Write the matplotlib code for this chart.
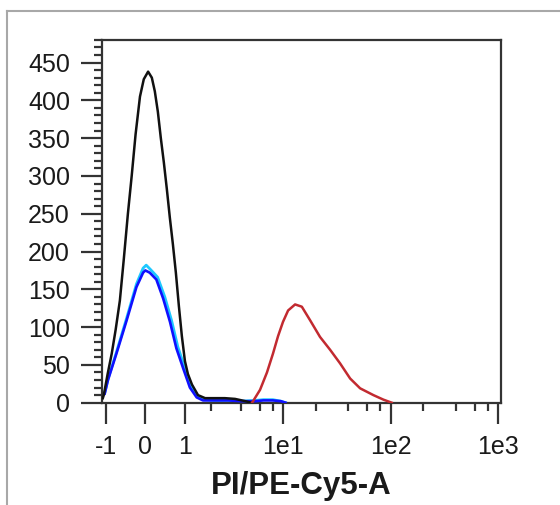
import numpy as np
import matplotlib
matplotlib.use('Agg')
import matplotlib.pyplot as plt
from matplotlib.lines import Line2D
from matplotlib.ticker import FixedLocator, NullFormatter

plt.rcParams['font.family'] = ['Liberation Sans', 'DejaVu Sans']

# histogram outlines (PI/PE-Cy5-A value, count)
black_x = [-1.09, -1.06, -0.94, -0.82, -0.71, -0.60, -0.50, -0.40, -0.31, -0.22, -0.12,
           -0.034, 0.063, 0.147, 0.215, 0.285, 0.355, 0.427, 0.50, 0.576, 0.655, 0.736,
           0.82, 0.907, 1.0, 1.094, 1.23, 1.45, 1.74, 2.2, 2.78, 3.5, 4.4, 5.0]
black_y = [6, 10, 38, 65, 97, 135, 190, 250, 300, 355, 405,
           428, 438, 430, 412, 385, 350, 318, 283, 245, 210, 172,
           128, 88, 55, 38, 24, 10, 6, 6, 6, 5, 2, 0]

cyan_x = [-1.03, -0.93, -0.69, -0.43, -0.20, -0.05, 0.02, 0.12, 0.28, 0.45, 0.62, 0.79,
          0.99, 1.2, 1.45, 1.7, 2.2, 3.0, 4.0, 5.5, 6.5, 8.0, 9.5, 10.5]
cyan_y = [13, 31, 67, 112, 157, 178, 182, 176, 166, 140, 109, 74,
          47, 21, 8, 4, 3, 3, 2, 3, 4, 4, 2, 0]

blue_x = [-1.03, -0.93, -0.69, -0.43, -0.20, -0.05, 0.0, 0.10, 0.25, 0.41, 0.58, 0.75,
          0.95, 1.16, 1.40, 1.65, 2.2, 3.0, 4.0, 5.5, 6.5, 8.0, 9.5, 10.5]
blue_y = [12, 30, 65, 109, 153, 172, 175, 172, 163, 138, 107, 72,
          45, 20, 7, 3, 3, 3, 2, 2, 3, 3, 2, 0]

red_x = [5.1, 6.06, 7.04, 8.02, 8.94, 9.95, 11.1, 12.9, 14.9, 17.8, 22.0, 27.3,
         33.8, 41.9, 51.9, 69.0, 85.5, 102]
red_y = [0, 17, 40, 65, 88, 107, 122, 130, 127, 109, 87, 70,
         52, 32, 19, 10, 4, 0]

xticks = [-1, 0, 1, 10, 100, 1000]
xticklabels = ['-1', '0', '1', '1e1', '1e2', '1e3']
xminor = [2, 4, 6, 8, 20, 40, 60, 80, 200, 400, 600, 800]
yticks = np.arange(0, 451, 50)
yminor = np.arange(0, 481, 10)

lin_w = 1.05


def fwd(x):
    return np.arcsinh(np.asarray(x) / lin_w)


def inv(y):
    return lin_w * np.sinh(np.asarray(y))


fig = plt.figure(figsize=(5.6, 5.05), dpi=100, facecolor='w')
ax = fig.add_axes([0.182, 0.2026, 0.713, 0.7184])
ax.set_xscale('function', functions=(fwd, inv))

ax.plot(cyan_x, cyan_y, color='#1ec8ff', lw=2.0, zorder=2)
ax.plot(blue_x, blue_y, color='#1010ff', lw=1.9, zorder=3)
ax.plot(black_x, black_y, color='#111111', lw=1.8, zorder=4)
ax.plot(red_x, red_y, color='#c22a30', lw=1.8, zorder=4)

ax.set_xlim(-1.12, 1060)
ax.set_ylim(0, 480)

ax.xaxis.set_major_locator(FixedLocator(xticks))
ax.set_xticklabels(xticklabels)
ax.xaxis.set_minor_locator(FixedLocator(xminor))
ax.xaxis.set_minor_formatter(NullFormatter())
ax.set_yticks(yticks)
ax.yaxis.set_minor_locator(FixedLocator(yminor))

for sp in ax.spines.values():
    sp.set_color('#333333')
    sp.set_linewidth(1.6)
ax.tick_params(which='major', length=15, width=1.6, color='#333333', labelsize=18,
               labelcolor='#1a1a1a', pad=8)
ax.tick_params(which='minor', length=6, width=1.6, color='#333333')

ax.set_xlabel('PI/PE-Cy5-A', fontsize=22.5, fontweight='bold', color='#1a1a1a', labelpad=9)

# light gray frame around the panel
fig.add_artist(Line2D([0.0125, 1.0], [0.978, 0.978], transform=fig.transFigure,
                      color='#a8a8a8', lw=1.5))
fig.add_artist(Line2D([0.0125, 0.0125], [0.0, 0.978], transform=fig.transFigure,
                      color='#a8a8a8', lw=1.5))

fig.savefig('out.png', facecolor=fig.get_facecolor())
